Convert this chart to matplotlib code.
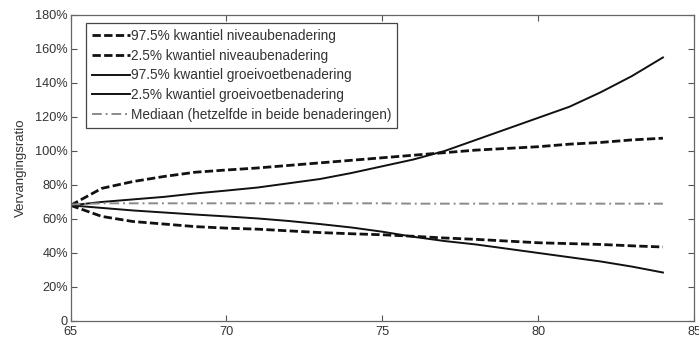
import matplotlib
matplotlib.use("Agg")
import matplotlib.pyplot as plt
from matplotlib.ticker import FuncFormatter

plt.rcParams['font.family'] = ['Liberation Sans', 'DejaVu Sans']

years = [65, 66, 67, 68, 69, 70, 71, 72, 73, 74, 75, 76, 77, 78, 79, 80, 81, 82, 83, 84]

niveau_hi = [68, 78, 82, 85, 87.5, 88.8, 90, 91.5, 93, 94.5, 96, 97.5, 99, 100.5, 101.5, 102.5, 104, 105, 106.5, 107.5]
niveau_lo = [68, 61.5, 58.5, 57, 55.5, 54.6, 54, 53, 52, 51.3, 50.7, 49.8, 48.8, 48, 47, 46, 45.5, 45, 44.2, 43.5]
groei_hi = [68, 70, 71.5, 73, 75, 76.7, 78.5, 81, 83.5, 87, 91, 95, 100, 106.5, 113, 119.5, 126, 134.5, 144, 155]
groei_lo = [68, 66.5, 65, 63.8, 62.6, 61.5, 60.3, 58.8, 57, 55, 52.5, 49.5, 47, 45, 42.5, 40, 37.5, 35, 32, 28.5]
mediaan = [68.5, 69.2, 69.2, 69.2, 69.2, 69.2, 69.2, 69.2, 69.2, 69.2, 69.2, 69.0, 69.0, 69.0, 69.0, 69.0, 69.0, 69.0, 69.0, 69.0]

labels = [
    "97.5% kwantiel niveaubenadering",
    "2.5% kwantiel niveaubenadering",
    "97.5% kwantiel groeivoetbenadering",
    "2.5% kwantiel groeivoetbenadering",
    "Mediaan (hetzelfde in beide benaderingen)",
]
xticks = [65, 70, 75, 80, 85]
yticks = [0, 20, 40, 60, 80, 100, 120, 140, 160, 180]
ylabel = "Vervangingsratio"

fig = plt.figure(figsize=(6.99, 3.40), dpi=100)
ax = fig.add_axes([0.101, 0.056, 0.892, 0.900])

txtc = '#333333'
ax.plot(years, niveau_hi, color='#111111', lw=2.0, dashes=(3, 1.2), label=labels[0])
ax.plot(years, niveau_lo, color='#111111', lw=2.0, dashes=(3, 1.2), label=labels[1])
ax.plot(years, groei_hi, color='#111111', lw=1.4, ls='-', label=labels[2])
ax.plot(years, groei_lo, color='#111111', lw=1.4, ls='-', label=labels[3])
ax.plot(years, mediaan, color='#8a8a8a', lw=1.4, dashes=(5, 2, 1, 2), label=labels[4])

ax.set_xlim(65, 85)
ax.set_ylim(0, 180)
ax.set_xticks(xticks)
ax.set_yticks(yticks)
ax.yaxis.set_major_formatter(FuncFormatter(lambda v, p: "0" if v == 0 else f"{int(v)}%"))
ax.tick_params(direction='in', top=True, right=True, length=4, width=0.8,
               colors='#555555', labelcolor=txtc, labelsize=9.2, pad=2)
ax.tick_params(axis='x', pad=3.5)
for s in ax.spines.values():
    s.set_color('#666666')
    s.set_linewidth(0.9)
ax.set_ylabel(ylabel, fontsize=9.5, color=txtc, labelpad=6)

leg = ax.legend(loc='upper left', bbox_to_anchor=(0.0245, 0.974), borderaxespad=0,
                fontsize=9.8, handlelength=2.8, handletextpad=0.05, labelspacing=0.42,
                borderpad=0.45, fancybox=False, framealpha=1, edgecolor='#444444')
leg.get_frame().set_linewidth(0.9)
for t in leg.get_texts():
    t.set_color(txtc)

fig.savefig("out.png", dpi=100)
